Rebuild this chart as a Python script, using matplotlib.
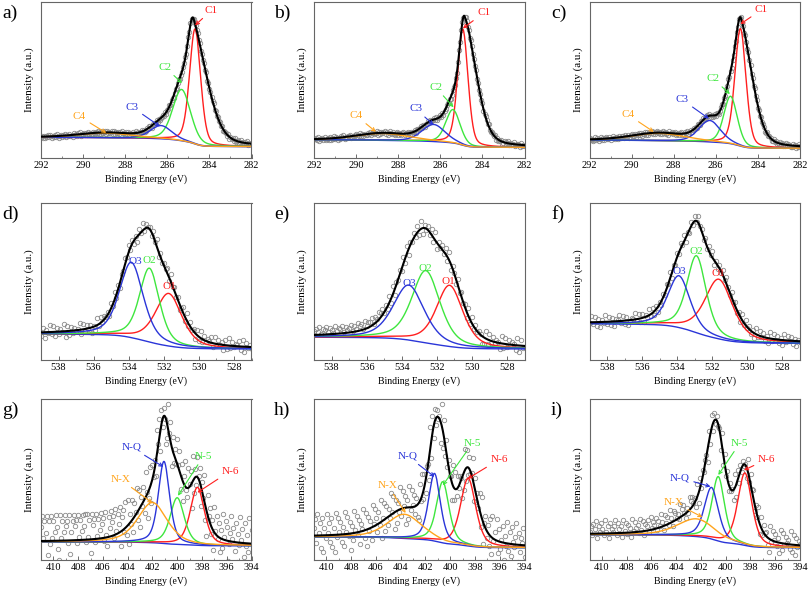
import numpy as np
import matplotlib
matplotlib.use('Agg')
from matplotlib import pyplot as plt
from matplotlib.ticker import MultipleLocator

plt.rcParams['font.family'] = ['Liberation Serif', 'DejaVu Serif']

RED = '#ff1f1f'
GREEN = '#3ee63e'
BLUE = '#2a35d8'
ORANGE = '#ffa41c'

# ---------------- C 1s : panels a, b, c ----------------
c_xlim = (292, 282)
c_labels = ['C1', 'C2', 'C3', 'C4']
c_colors = [RED, GREEN, BLUE, ORANGE]

a_centers = [284.68, 285.32, 286.30, 288.9]
a_heights = [74, 33, 8.5, 3.0]
a_fwhm = [0.62, 1.0, 1.2, 3.0]
a_bg = (13.0, 7.0)                      # background at high / low BE end
a_env = (284.75, 66, 0.62, 1.6)         # envelope main peak: centre, height, left / right fwhm
a_text = [(283.9, 94.7), (286.1, 58), (287.67, 32.4), (290.17, 26.4)]
a_tip = [(284.68, 85), (285.3, 47.8), (286.35, 20), (288.9, 15.8)]
a_noise = ("45362547362546375245364725463527453647254635274536"
           "53647253645726354637254635274536472536457263547362"
           "36475263547263546372546375246357243657246375243657"
           "47253647253645726354637245637254637256347253647254"
           "5")

b_centers = [284.93, 285.40, 286.32, 288.7]
b_heights = [74.5, 21.5, 11.0, 4.4]
b_fwhm = [0.58, 0.8, 1.3, 3.0]
b_bg = (11.4, 6.5)
b_env = (284.85, 76, 0.56, 1.35)
b_text = [(283.94, 93), (286.21, 45), (287.17, 31.3), (290.0, 27)]
b_tip = [(284.93, 83), (285.37, 32.3), (286.32, 21), (289.06, 16.5)]
b_noise = ("54637254637245362547365243657243657245367254736254"
           "36472563547263545736247536425736425736475263547265"
           "45736254736254637245736254763524763524736524763527"
           "63547263547236547236547263547236547263547236542735"
           "4")

c_centers = [284.83, 285.30, 286.29, 288.7]
c_heights = [75.5, 30.5, 13.8, 4.7]
c_fwhm = [0.62, 0.75, 1.2, 3.0]
c_bg = (11.2, 5.9)
c_env = (284.80, 71.7, 0.6, 1.3)
c_text = [(283.83, 95), (286.13, 50.7), (287.6, 37.2), (290.17, 27.5)]
c_tip = [(284.83, 85.8), (285.33, 40.8), (286.33, 25), (288.95, 16.5)]
c_noise = ("63524736524736257436257436527436527436257436254736"
           "25473625473625746352746352746357246357243657246357"
           "46375264735264735246375246735264735264735264735265"
           "37462537462537465237465237462537462537465237462537"
           "5")

# ---------------- O 1s : panels d, e, f ----------------
o_xlim = (539, 527)
o_labels = ['O1', 'O2', 'O3']
o_colors = [RED, GREEN, BLUE]

d_centers = [531.72, 532.82, 533.85]
d_heights = [33.5, 47, 48]
d_fwhm = [1.8, 1.35, 1.6]
d_bg = (16.5, 7.0)
d_env = (0.91, 1.06)                    # envelope: height and width factor
d_text = [(531.68, 47), (532.82, 63.4), (533.62, 62.8)]
d_noise = ("2716493827364918273645928374615293847562"
           "8392716485937261849375628491736582947361"
           "5829374618293746582937461829374658291746"
           "3")

e_centers = [531.27, 532.62, 533.6]
e_heights = [39, 46, 35]
e_fwhm = [1.8, 1.9, 2.1]
e_bg = (14.5, 7.0)
e_env = (0.95, 1.04)
e_text = [(531.33, 50), (532.65, 58), (533.56, 48.5)]
e_noise = ("7869587968759687958679586978596879586978"
           "4738291647382916473829164738291647382916"
           "5283746192837465019283746519283746529183"
           "4")

f_centers = [531.63, 532.9, 533.9]
f_heights = [38, 49, 33]
f_fwhm = [1.9, 1.3, 1.5]
f_bg = (23.0, 10.6)
f_env = (0.96, 1.05)
f_text = [(531.66, 55.3), (532.9, 69.4), (533.87, 56.4)]
f_noise = ("4938271649382716593827146593827164938271"
           "6273849162738491627384956273849162738495"
           "3847261938472619384726193847261938472615"
           "4")

# ---------------- N 1s : panels g, h, i ----------------
n_xlim = (411, 394)
n_labels = ['N-6', 'N-5', 'N-Q', 'N-X']
n_colors = [RED, GREEN, BLUE, ORANGE]

g_centers = [398.37, 400.0, 401.07, 402.0]
g_heights = [36, 29, 51, 25]
g_fwhm = [1.35, 1.35, 1.08, 2.8]
g_bg = (11.2, 8.8)
g_env = (1.0, 1.1)
g_text = [(395.73, 55.2), (397.89, 64.4), (403.69, 70), (404.58, 50.1)]
g_tip = [(398.37, 41.9), (399.94, 39.9), (401.12, 57.9), (402.0, 35.4)]
g_noise = ("79586928495869731958697849268978495869794958297849"
           "58697849538697849586927849"
           "3916482759381647295038174629581736402958173649"
           "5827169438570926385716492085736195847263958714"
           "69573816495728463917")

h_centers = [398.55, 400.6, 401.27, 403.7]
h_heights = [42, 38, 42, 15]
h_fwhm = [1.45, 1.2, 1.13, 3.3]
h_bg = (14.3, 7.6)
h_env = (1.05, 1.2)
h_text = [(396.05, 62.4), (398.2, 72.6), (403.42, 64.4), (405.03, 46)]
h_tip = [(398.59, 50.5), (400.6, 46.4), (401.27, 51.7), (403.6, 29.2)]
h_noise = ("68395728164957382619485736295847163958472659381746"
           "29586374915827364958172649385716294857362"
           "1849372650918273645091827364519283746501928374"
           "5917364829057362819460927358164937285469173"
           "6582")

i_centers = [398.45, 400.6, 401.15, 402.37]
i_heights = [45, 40, 32, 11]
i_fwhm = [1.35, 1.2, 1.35, 3.6]
i_bg = (15.7, 7.6)
i_env = (1.0, 1.2)
i_text = [(396.7, 62.4), (398.86, 72.6), (403.71, 51.1), (404.17, 35.8)]
i_tip = [(398.53, 55.8), (400.6, 52.8), (401.23, 45.6), (401.88, 26.6)]
i_noise = ("57486937586495738657948673958476395867495837684957"
           "68475963857496387564978536497856"
           "2918374650819273645091837264519082736451"
           "93857264918375620948573619284756392817465")


def peak(x, c, h, wl, eta, wr=None):
    # pseudo-voigt peak, optionally with different left / right widths
    if wr is None:
        wr = wl
    w = np.where(x > c, wl, wr)
    r = ((x - c) / (w / 2.0)) ** 2
    return h * ((1 - eta) * np.exp(-np.log(2) * r) + eta / (1 + r))


panels = [
    dict(tag='a)', xlim=c_xlim, labels=c_labels, colors=c_colors, cen=a_centers, hgt=a_heights,
         fwhm=a_fwhm, bg=a_bg, env=a_env, text=a_text, tip=a_tip, noise=a_noise, step=0.45, eta=0.3),
    dict(tag='b)', xlim=c_xlim, labels=c_labels, colors=c_colors, cen=b_centers, hgt=b_heights,
         fwhm=b_fwhm, bg=b_bg, env=b_env, text=b_text, tip=b_tip, noise=b_noise, step=0.45, eta=0.3),
    dict(tag='c)', xlim=c_xlim, labels=c_labels, colors=c_colors, cen=c_centers, hgt=c_heights,
         fwhm=c_fwhm, bg=c_bg, env=c_env, text=c_text, tip=c_tip, noise=c_noise, step=0.45, eta=0.3),
    dict(tag='d)', xlim=o_xlim, labels=o_labels, colors=o_colors, cen=d_centers, hgt=d_heights,
         fwhm=d_fwhm, bg=d_bg, env=d_env, text=d_text, tip=None, noise=d_noise, step=1.0, eta=0.5),
    dict(tag='e)', xlim=o_xlim, labels=o_labels, colors=o_colors, cen=e_centers, hgt=e_heights,
         fwhm=e_fwhm, bg=e_bg, env=e_env, text=e_text, tip=None, noise=e_noise, step=1.1, eta=0.5),
    dict(tag='f)', xlim=o_xlim, labels=o_labels, colors=o_colors, cen=f_centers, hgt=f_heights,
         fwhm=f_fwhm, bg=f_bg, env=f_env, text=f_text, tip=None, noise=f_noise, step=0.9, eta=0.5),
    dict(tag='g)', xlim=n_xlim, labels=n_labels, colors=n_colors, cen=g_centers, hgt=g_heights,
         fwhm=g_fwhm, bg=g_bg, env=g_env, text=g_text, tip=g_tip, noise=g_noise, step=3.5, eta=0.5),
    dict(tag='h)', xlim=n_xlim, labels=n_labels, colors=n_colors, cen=h_centers, hgt=h_heights,
         fwhm=h_fwhm, bg=h_bg, env=h_env, text=h_text, tip=h_tip, noise=h_noise, step=3.0, eta=0.5),
    dict(tag='i)', xlim=n_xlim, labels=n_labels, colors=n_colors, cen=i_centers, hgt=i_heights,
         fwhm=i_fwhm, bg=i_bg, env=i_env, text=i_text, tip=i_tip, noise=i_noise, step=1.8, eta=0.5),
]

W, H = 809, 592
fig = plt.figure(figsize=(W / 100, H / 100), dpi=100)
col_left = [41, 314, 589.5]
rows = [(2, 157.5), (203, 360), (399, 560)]
ax_w = 210.5

for k, p in enumerate(panels):
    r, cidx = divmod(k, 3)
    top, bot = rows[r]
    ax = fig.add_axes([col_left[cidx] / W, 1 - bot / H, ax_w / W, (bot - top) / H])

    hi, lo = p['xlim']
    eta = p['eta']
    npts = len(p['noise'])
    x = np.linspace(lo, hi, (npts - 1) * 3 + 1)
    comps = [peak(x, c, h, w, eta) for c, h, w in zip(p['cen'], p['hgt'], p['fwhm'])]
    total = np.sum(comps, axis=0)
    # shirley type background
    cum = np.cumsum(total)
    bg = p['bg'][1] + (p['bg'][0] - p['bg'][1]) * cum / cum[-1]
    env = p['env']
    if len(env) == 4:
        ec, eh, ewl, ewr = env
        fit = bg + peak(x, ec, eh, ewl, eta, ewr) + np.sum(comps[1:], axis=0)
    else:
        sh, sw = env
        fit = bg + np.sum([peak(x, c, h * sh, w * sw, eta)
                           for c, h, w in zip(p['cen'], p['hgt'], p['fwhm'])], axis=0)

    resid = (np.array([int(d) for d in p['noise']]) - 4.5) * p['step']
    ax.plot(x[::3], fit[::3] + resid[::-1], 'o', ms=3.2, mfc='none', mec='#8a8a8a', mew=0.6, zorder=1)
    ax.plot(x, bg, color=BLUE, lw=1.0, zorder=2)
    for comp, col in zip(comps, p['colors']):
        ax.plot(x, bg + comp, color=col, lw=1.0, zorder=2)
    ax.plot(x, fit, color='black', lw=1.5, zorder=3)

    for j, (lab, col) in enumerate(zip(p['labels'], p['colors'])):
        tx, ty = p['text'][j]
        if p['tip'] is None:
            ax.text(tx, ty, lab, color=col, fontsize=8, ha='center', va='center', zorder=4)
        else:
            ax.annotate(lab, xy=p['tip'][j], xytext=(tx, ty), color=col, fontsize=8,
                        ha='center', va='center', zorder=4,
                        arrowprops=dict(arrowstyle='->', color=col, lw=0.8,
                                        shrinkA=1, shrinkB=0, mutation_scale=6))

    ax.set_xlim(hi, lo)
    ax.set_ylim(0, 100)
    ax.set_yticks([])
    ax.xaxis.set_major_locator(MultipleLocator(2))
    ax.xaxis.set_minor_locator(MultipleLocator(1))
    ax.tick_params(axis='x', which='major', direction='in', length=3, width=0.6,
                   labelsize=7.5, pad=2.5, color='#555555')
    ax.tick_params(axis='x', which='minor', direction='in', length=1.5, width=0.5, color='#555555')
    for s in ax.spines.values():
        s.set_color('#666666')
        s.set_linewidth(0.8)
    ax.set_xlabel('Binding Energy (eV)', fontsize=7, labelpad=3)
    ax.set_ylabel('Intensity (a.u.)', fontsize=8, labelpad=5)

    tag_x = [2, 274, 551][cidx]
    fig.text(tag_x / W, 1 - (top + 11) / H, p['tag'], fontsize=14, va='center', ha='left')

fig.savefig('out.png', dpi=100)
